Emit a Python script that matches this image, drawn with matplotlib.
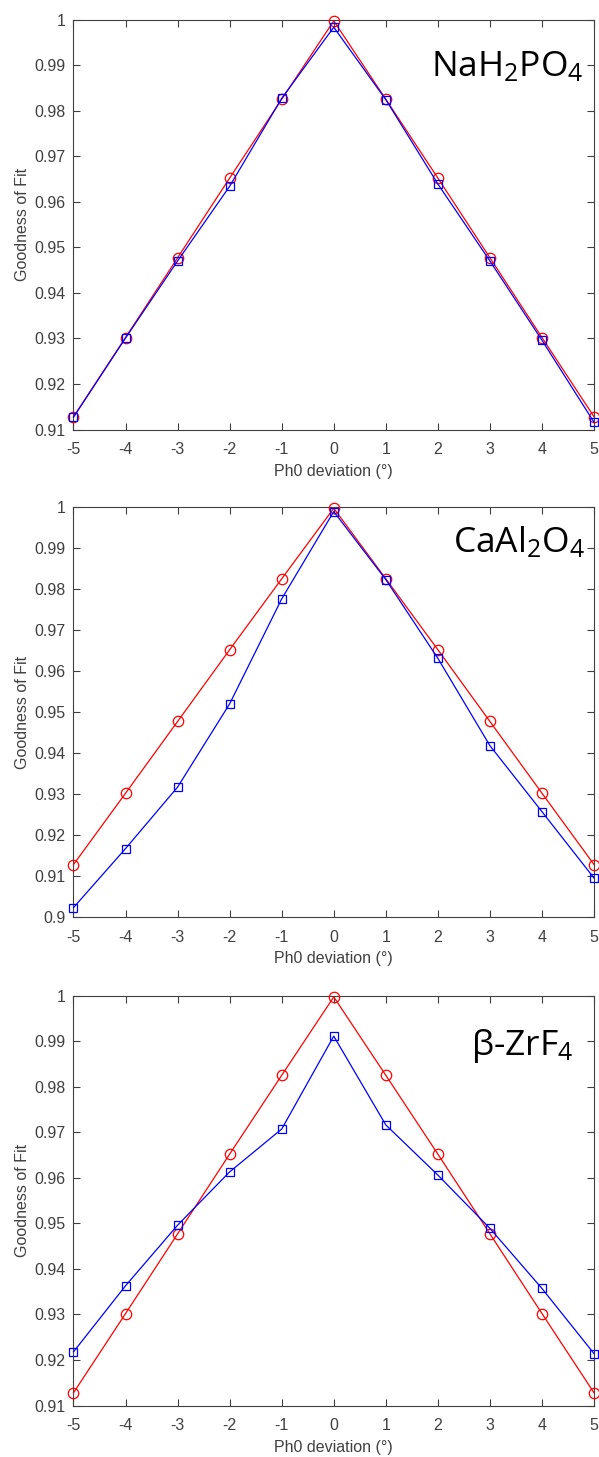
import matplotlib
matplotlib.use('Agg')
import matplotlib.pyplot as plt
from matplotlib.ticker import FuncFormatter

# Ph0 deviation (degrees)
deviation = [-5, -4, -3, -2, -1, 0, 1, 2, 3, 4, 5]

# red circles (same reference curve in each panel)
ref_fit = [0.9128, 0.9302, 0.9477, 0.9652, 0.9825, 0.9997, 0.9825, 0.9652, 0.9477, 0.9302, 0.9128]

# blue squares
nah2po4_fit = [0.9127, 0.9301, 0.9470, 0.9634, 0.9827, 0.9983, 0.9824, 0.9639, 0.9470, 0.9296, 0.9116]
caal2o4_fit = [0.9023, 0.9167, 0.9317, 0.9520, 0.9776, 0.9989, 0.9823, 0.9631, 0.9418, 0.9257, 0.9095]
zrf4_fit = [0.9218, 0.9363, 0.9496, 0.9613, 0.9707, 0.9911, 0.9716, 0.9606, 0.9489, 0.9357, 0.9214]

labels = ['NaH$_2$PO$_4$', 'CaAl$_2$O$_4$', '\u03b2-ZrF$_4$']
ylims = [(0.91, 1.0), (0.90, 1.0), (0.91, 1.0)]

plt.rcParams['axes.unicode_minus'] = False
plt.rcParams['font.family'] = ['Liberation Sans', 'DejaVu Sans']
plt.rcParams['mathtext.fontset'] = 'custom'
plt.rcParams['mathtext.rm'] = 'Open Sans'
plt.rcParams['mathtext.it'] = 'Open Sans'

fig = plt.figure(figsize=(5.99, 14.57), dpi=100)

# axes boxes in figure fractions [left, bottom, width, height]
boxes = [
    [0.1227, 0.7052, 0.869, 0.2814],
    [0.1227, 0.3706, 0.869, 0.2814],
    [0.1227, 0.0353, 0.869, 0.2814],
]
# label anchor (right edge, baseline) in axes fractions
label_pos = [(0.979, 0.861), (0.983, 0.890), (0.960, 0.854)]

gray = '#404040'
fmt = FuncFormatter(lambda v, p: '%g' % round(v, 4))

for box, blue, lab, yl, lp in zip(boxes, [nah2po4_fit, caal2o4_fit, zrf4_fit],
                                  labels, ylims, label_pos):
    ax = fig.add_axes(box)
    ax.plot(deviation, ref_fit, color='#ff0000', lw=0.9, marker='o', ms=7.5,
            mfc='none', mec='#ff0000', mew=0.9, clip_on=False, zorder=3)
    ax.plot(deviation, blue, color='#0000ff', lw=0.9, marker='s', ms=6,
            mfc='none', mec='#0000ff', mew=0.9, clip_on=False, zorder=4)
    ax.set_xlim(-5, 5)
    ax.set_ylim(*yl)
    ax.set_xticks(deviation)
    step = 0.01
    n = int(round((yl[1] - yl[0]) / step))
    ax.set_yticks([yl[0] + i * step for i in range(n + 1)])
    ax.yaxis.set_major_formatter(fmt)
    ax.tick_params(direction='in', top=True, right=True, length=5, width=0.8,
                   colors=gray, labelsize=11.5, labelcolor=gray)
    ax.tick_params(axis='x', pad=9)
    ax.tick_params(axis='y', pad=5.5)
    for s in ax.spines.values():
        s.set_color(gray)
        s.set_linewidth(0.8)
    ax.set_xlabel('Ph0 deviation (\u00b0)', color=gray, fontsize=11.5, labelpad=5)
    ax.set_ylabel('Goodness of Fit', color=gray, fontsize=11.5, labelpad=3)
    ax.text(lp[0], lp[1], lab, transform=ax.transAxes, ha='right', va='baseline',
            fontsize=25.5, family='Open Sans', color='black')

fig.savefig('out.png', dpi=100)
